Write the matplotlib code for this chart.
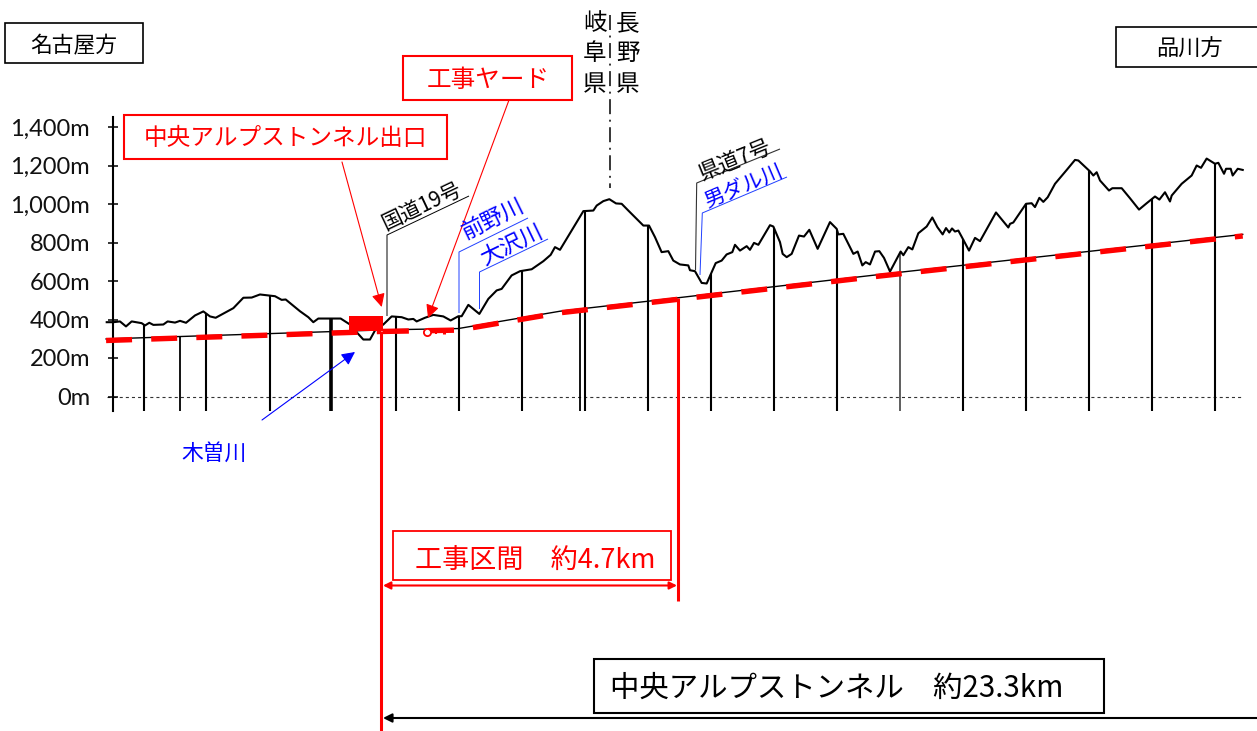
import matplotlib
matplotlib.use('Agg')
import matplotlib.pyplot as plt
import numpy as np
from matplotlib.patches import Rectangle, Circle
from matplotlib.transforms import Affine2D

plt.rcParams['font.family'] = ['Noto Sans CJK JP', 'DejaVu Sans']
plt.rcParams['lines.scale_dashes'] = False

# --- data (km from the tunnel exit, elevation in m) ---
terrain_km = [-4.34,-4.235,-4.13,-4.035,-3.945,-3.787,-3.734,-3.666,-3.602,-3.444,-3.376,-3.259,-3.18,-3.085,-2.943,-2.811,-2.706,-2.616,-2.336,-2.178,-2.046,-1.915,-1.677,-1.572,-1.508,-1.282,-1.15,-1.071,-0.992,-0.638,-0.491,-0.385,-0.28,-0.174,-0.095,0.037,0.169,0.327,0.432,0.512,0.564,0.696,0.828,0.986,1.102,1.224,1.276,1.382,1.556,
              1.698,1.83,1.909,2.067,2.2,2.384,2.569,2.685,2.753,2.832,3.202,3.36,3.413,3.518,3.613,3.719,3.808,3.913,4.151,4.241,4.335,4.44,4.546,4.625,4.73,4.862,4.889,4.968,5.074,5.153,5.296,5.39,5.469,5.559,5.601,5.68,5.786,5.838,5.902,5.971,6.155,6.208,6.313,6.355,6.419,6.498,6.614,6.693,6.777,6.909,7.104,7.21,7.236,7.315,7.474,7.542,7.616,7.669,7.737,7.817,7.885,
              7.959,8.054,8.222,8.265,8.344,8.407,8.502,8.634,8.723,8.803,8.887,8.94,8.992,9.035,9.082,9.135,9.214,9.304,9.399,9.478,9.731,9.926,9.953,10.005,10.206,10.295,10.348,10.417,10.48,10.549,10.665,10.85,10.981,11.034,11.219,11.271,11.324,11.377,11.519,11.572,11.72,11.851,11.994,12.115,12.247,12.316,12.405,12.484,12.511,12.669,12.827,12.906,12.975,13.064,13.196,13.249,13.339,13.371,13.445,13.476,13.556,13.635]
terrain_m = [386,386,390,364,390,381,369,383,372,374,390,384,393,383,421,442,416,409,459,513,514,530,521,502,504,443,412,386,405,405,374,334,296,296,343,374,416,412,400,403,390,409,424,416,395,417,417,476,429,
             507,551,559,629,651,661,703,736,776,762,963,966,992,1015,1025,1003,1001,966,888,888,828,750,755,706,686,681,656,651,590,587,693,706,738,750,788,758,781,762,798,788,890,883,802,741,724,741,836,831,866,767,906,871,842,845,741,753,681,698,686,753,755,
             720,649,753,734,776,764,848,883,930,880,842,875,852,873,857,862,814,758,824,807,956,878,897,904,1001,1004,984,1032,1011,1035,1105,1177,1229,1226,1169,1148,1165,1122,1070,1082,1082,1030,971,1004,1039,1023,1061,1013,1044,1105,1148,1200,1188,1236,1209,1214,1157,1183,1183,1148,1183,1177]

tunnel_km = [-4.35,0.037,1.224,1.883,2.832,4.2,7.895,13.635]
tunnel_m = [299,346,353,390,443,494,634,842]
plan_west_km = [-4.35,0.0]
plan_west_m = [291,338]
plan_east_km = [0.03,1.224,1.883,2.832,4.2,7.895,13.635]
plan_east_m = [338,345,382,435,486,626,834]

pier_on_terrain_km = [-3.75,-2.77,-1.756,0.237,1.234,2.23,3.228,4.225,5.22,6.218,7.215,9.209,10.206,11.203,12.199,13.196]
pier_on_tunnel_km = [-3.18,3.149]
pier_thick_km = -0.79
pier_thin_km = 8.212

ytick_vals = [0,200,400,600,800,1000,1200,1400]
ytick_labels = ['0m','200m','400m','600m','800m','1,000m','1,200m','1,400m']

W, H = 1257, 731
K_LEFT = (113-381)/63.2
K_RIGHT = (1257-381)/63.2

fig = plt.figure(figsize=(W/100, H/100), dpi=100, facecolor='white')
ax = fig.add_axes([113/W, 1-411/H, (W-113)/W, (411-117)/H])
ax.set_xlim(K_LEFT, K_RIGHT)
ax.set_ylim((396.5-411)/0.1925, (396.5-117)/0.1925)
ax.autoscale(False)
ax.patch.set_alpha(0)
for s in ['top','right','bottom']:
    ax.spines[s].set_visible(False)
ax.spines['left'].set_linewidth(1.5)
ax.set_xticks([])
ax.set_yticks(ytick_vals)
ax.set_yticklabels(ytick_labels, family='Lato', fontsize=17, color='#111111')
ax.tick_params(axis='y', direction='inout', length=7, width=1.1, pad=13)

pix = Affine2D().scale(1, -1).translate(0, H)   # annotation layout in picture pixels

# elevation reference
ax.plot([K_LEFT-0.09, 13.635], [0, 0], color='#333333', lw=0.8, ls=(0, (2.2, 2.2)), clip_on=False, zorder=1)

# piers
tk = np.array(terrain_km); tm = np.array(terrain_m)
bottom = ax.get_ylim()[0]
for k in pier_on_terrain_km:
    ax.plot([k, k], [bottom, np.interp(k, tk, tm)], color='black', lw=1.5, solid_capstyle='butt', zorder=2)
for k in pier_on_tunnel_km:
    ax.plot([k, k], [bottom, np.interp(k, tunnel_km, tunnel_m)], color='black', lw=1.3, solid_capstyle='butt', zorder=2)
ax.plot([pier_thick_km]*2, [bottom, np.interp(pier_thick_km, tk, tm)], color='black', lw=2.6, solid_capstyle='butt', zorder=2)
ax.plot([pier_thin_km]*2, [bottom, np.interp(pier_thin_km, tk, tm)], color='#333333', lw=1.1, solid_capstyle='butt', zorder=2)

# terrain and tunnel
ax.plot(terrain_km, terrain_m, color='black', lw=1.5, solid_joinstyle='round', zorder=3, clip_on=False)
ax.plot(tunnel_km, tunnel_m, color='black', lw=1.0, zorder=3, clip_on=False)

# planned section (red dashes)
dash = (0, (18.7, 13.8))
ax.plot(plan_west_km, plan_west_m, color='#FF0000', lw=3.9, ls=dash, dash_capstyle='butt', zorder=4, clip_on=False)
ax.plot(plan_east_km, plan_east_m, color='#FF0000', lw=3.9, ls=dash, dash_capstyle='butt', zorder=4, clip_on=False)

def box(x0, y0, x1, y1, ec='black', lw=1.2):
    ax.add_patch(Rectangle((x0, y0), x1-x0, y1-y0, transform=pix, fc='white', ec=ec, lw=lw, clip_on=False, zorder=6))

def label(x, y, s, size, color='black', rot=0, ha='center', **kw):
    dy = size*0.17 if rot == 0 else 0
    ax.text(x, y+dy, s, transform=pix, fontsize=size, color=color, rotation=rot, rotation_mode='anchor',
            ha=ha, va='center', clip_on=False, zorder=7, **kw)

def seg(xs, ys, color='black', lw=1.0, **kw):
    ax.plot(xs, ys, transform=pix, color=color, lw=lw, clip_on=False, solid_capstyle='butt', zorder=kw.pop('zorder', 5), **kw)

def arrow(p_from, p_to, color, lw=0.8, style='-|>', scale=16):
    ax.annotate('', xy=p_to, xytext=p_from, xycoords=pix, textcoords=pix, annotation_clip=False, zorder=6,
                arrowprops=dict(arrowstyle=style, color=color, lw=lw, shrinkA=0, shrinkB=0, mutation_scale=scale))

# tunnel portal block and yard symbol
ax.add_patch(Rectangle((349, 316), 34, 15, transform=pix, fc='#FF0000', ec='none', clip_on=False, zorder=5))
ax.add_patch(Circle((427.5, 332.5), 3.6, transform=pix, fc='white', ec='#FF0000', lw=1.3, clip_on=False, zorder=5))
seg([431, 437], [331.5, 331.5], '#FF0000', 1.5)
seg([436, 436], [329, 334], '#FF0000', 1.5)
seg([443.5, 443.5], [329, 334], '#FF0000', 2.2)

# red verticals
seg([380.5, 380.5], [331, 731], '#FF0000', 2.2)
seg([678, 678], [298, 601], '#FF0000', 2.2)

# prefectural border
seg([610, 610], [15, 188], 'black', 1.1, ls=(0, (10.8, 4, 1.4, 4)))
label(595, 51, '岐\n阜\n県', 17, linespacing=1.4)
label(628, 51, '長\n野\n県', 17, linespacing=1.4)

# header boxes
box(5, 23, 143, 63)
label(74, 44, '名古屋方', 15.7)
box(1116, 27, 1262, 67)
label(1190, 47, '品川方', 16)
box(403, 56, 572, 100, '#FF0000', 1.5)
label(488, 77, '工事ヤード', 17.7, '#FF0000')
box(124, 115, 447, 159, '#FF0000', 1.5)
label(285, 136, '中央アルプストンネル出口', 17, '#FF0000')

# callouts
seg([387, 387, 469], [316, 235, 196], 'black', 0.7)
label(422, 206, '国道19号', 15, rot=25.4)
seg([459, 459, 528], [313, 252, 218], '#2040FF', 0.7)
label(493, 219, '前野川', 16, '#0000FF', rot=26)
seg([479.5, 479.5, 548], [309, 272, 239], '#2040FF', 0.7)
label(511, 245, '大沢川', 16, '#0000FF', rot=25.7)
seg([695.5, 696.7, 780], [270, 183, 149], '#333333', 0.8)
label(735, 160, '県道7号', 15.5, rot=22)
seg([700, 702.3, 787], [275, 213, 177], '#2040FF', 0.7)
label(743, 186, '男ダル川', 15, '#0000FF', rot=23)
label(214, 451, '木曽川', 15.7, '#0000FF')

# pointers
arrow((342, 162), (381.7, 307), '#FF0000', scale=20)
arrow((509, 100), (428, 318), '#FF0000', scale=20)
arrow((262, 420), (355, 352), '#0000FF', scale=20)

# section dimensions
box(393, 531, 671, 580, '#FF0000', 1.3)
label(415, 557, '工事区間　約4.7km', 19.5, '#FF0000', ha='left')
arrow((677, 585.5), (383, 585.5), '#FF0000', lw=1.5, style='<|-|>', scale=11)
box(594, 659, 1104, 713, 'black', 1.5)
label(610, 685, '中央アルプストンネル　約23.3km', 21.2, ha='left')
arrow((1257, 718), (383, 718), 'black', lw=1.5, scale=13)

fig.savefig('out.png', dpi=100)
